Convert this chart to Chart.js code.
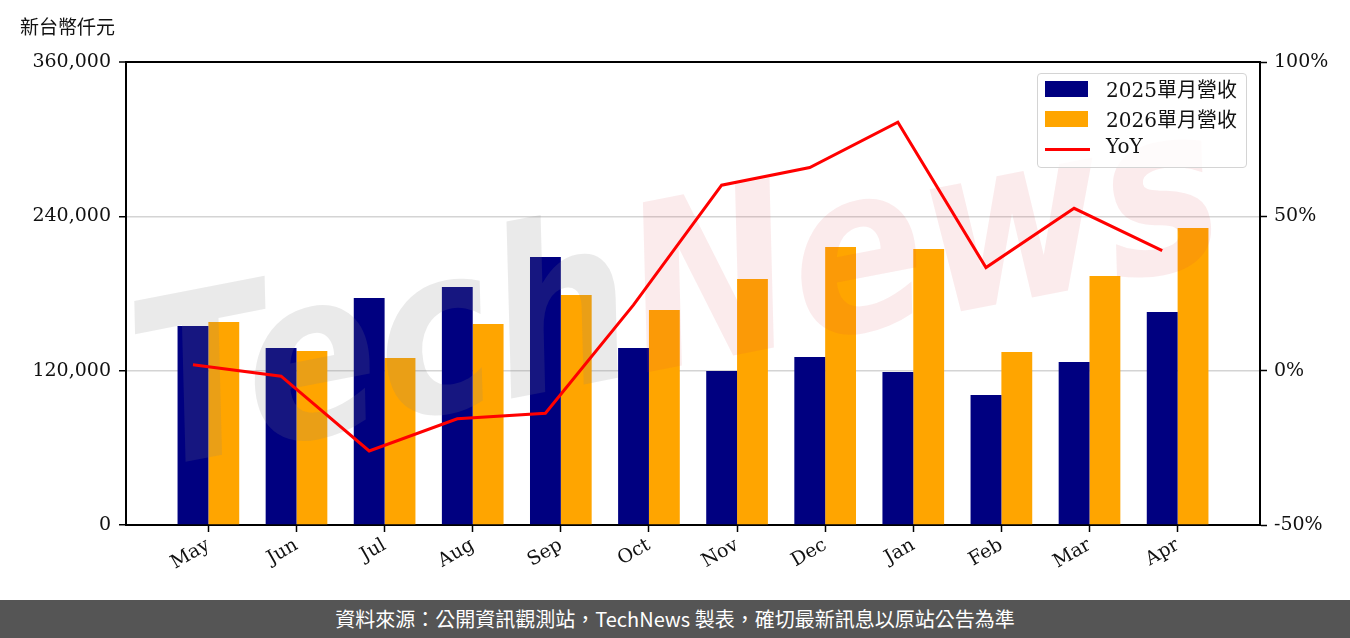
<!DOCTYPE html>
<html>
<head>
<meta charset="utf-8">
<script src="https://cdn.jsdelivr.net/npm/chart.js@4.4.0/dist/chart.umd.min.js"></script>
<style>
  html, body { margin: 0; padding: 0; background: #fff; }
  #wrap { position: relative; width: 1350px; height: 638px; overflow: hidden; background: #fff; }
  #c { position: absolute; left: 0; top: 0; }
  #unit { position: absolute; left: 20px; top: 14px; font: 19px "Noto Sans CJK TC", sans-serif; color: #111; line-height: 24px; }
  #legend { position: absolute; left: 1037px; top: 73px; width: 210px; height: 95px; box-sizing: border-box;
            border: 1.5px solid #d4d4d4; border-radius: 4px; background: rgba(255,255,255,0.8); }
  #legend .row { position: absolute; left: 0; height: 30px; width: 100%; }
  #legend .sw { position: absolute; left: 6.5px; }
  #legend .txt { position: absolute; left: 68px; top: 0; line-height: 30px; font: 20px "DejaVu Serif", "Noto Sans CJK TC", serif; color: #111; white-space: nowrap; }
  #footer { position: absolute; left: 0; top: 600px; width: 1350px; height: 38px; background: #555555; color: #fff;
            font: 20px "Noto Sans CJK TC", sans-serif; text-align: center; line-height: 38px; }
</style>
</head>
<body>
<div id="wrap">
  <canvas id="c" width="1350" height="600"></canvas>
  <div id="unit">新台幣仟元</div>
  <div id="legend"></div>
  <div id="footer">資料來源：公開資訊觀測站，TechNews 製表，確切最新訊息以原站公告為準</div>
</div>
<script>
// ---- data ----
const months = ['May','Jun','Jul','Aug','Sep','Oct','Nov','Dec','Jan','Feb','Mar','Apr'];
const rev2025 = [154700,137600,176500,185000,208400,137600,119700,130600,119000,101100,126700,165600];
const rev2026 = [157800,135300,129800,156300,178800,167200,191300,216100,214600,134500,193600,230900];
const yoy = [1.9,-1.8,-26.0,-15.6,-13.8,21.3,60.1,65.8,80.5,33.4,52.6,38.9];
const leftTicks = [0,120000,240000,360000];
const rightTicks = [-50,0,50,100];
const seriesLabels = ['2025單月營收','2026單月營收','YoY'];

// ---- styling ----
const BAR_W = 0.35;
const tickFont = { family: '"DejaVu Serif", serif', size: 19 };

const watermark = {
  id: 'wm',
  beforeDatasetDraw(chart, args) {
    if (args.index !== 2) return;
    const ctx = chart.ctx;
    ctx.save();
    ctx.translate(680, 305);
    ctx.rotate(-11 * Math.PI / 180);
    ctx.font = 'italic bold 230px "DejaVu Sans"';
    ctx.textBaseline = 'middle';
    const t1 = 'Tech', t2 = 'News';
    const w1 = ctx.measureText(t1).width, w2 = ctx.measureText(t2).width;
    ctx.scale(1100 / (w1 + w2), 1);
    const x0 = -(w1 + w2) / 2;
    ctx.fillStyle = 'rgba(130,130,130,0.17)';
    ctx.fillText(t1, x0, 0);
    ctx.fillStyle = 'rgba(215,60,70,0.10)';
    ctx.fillText(t2, x0 + w1, 0);
    ctx.restore();
  }
};

const chart = new Chart(document.getElementById('c'), {
  data: {
    datasets: [
      { type: 'bar', label: seriesLabels[0], data: rev2025.map((v, i) => ({ x: i, y: v })),
        backgroundColor: '#000080', yAxisID: 'y', order: 1, categoryPercentage: 2 * BAR_W, barPercentage: 1.0 },
      { type: 'bar', label: seriesLabels[1], data: rev2026.map((v, i) => ({ x: i, y: v })),
        backgroundColor: '#FFA500', yAxisID: 'y', order: 1, categoryPercentage: 2 * BAR_W, barPercentage: 1.0 },
      { type: 'line', label: seriesLabels[2], data: yoy.map((v, i) => ({ x: i - BAR_W / 2, y: v })),
        borderColor: '#FF0000', backgroundColor: '#FF0000', borderWidth: 3, pointRadius: 0, tension: 0,
        yAxisID: 'y1', order: 0 }
    ]
  },
  options: {
    responsive: false,
    animation: false,
    layout: { padding: { top: 62, left: 0, right: 0, bottom: 0 } },
    plugins: { legend: { display: false }, tooltip: { enabled: false } },
    scales: {
      x: {
        type: 'linear', position: 'bottom', min: -0.935, max: 11.935, bounds: 'data', offset: false,
        afterBuildTicks: s => { s.ticks = months.map((m, i) => ({ value: i })); },
        afterFit: s => { s.height = 75; },
        ticks: { callback: v => months[Math.round(v)], autoSkip: false, maxRotation: 30, minRotation: 30,
                 font: tickFont, color: '#111', padding: 2 },
        grid: { offset: false, drawOnChartArea: false, tickLength: 7, tickColor: '#000', tickWidth: 1.5 },
        border: { display: true, color: '#000', width: 2 }
      },
      y: {
        type: 'linear', position: 'left', min: 0, max: 360000, bounds: 'data',
        afterBuildTicks: s => { s.ticks = leftTicks.map(v => ({ value: v })); },
        afterFit: s => { s.width = 126; },
        ticks: { callback: v => v.toLocaleString('en-US'), font: tickFont, color: '#111', padding: 8 },
        grid: {
          color: c => c.tick && c.tick.value === 360000 ? '#000' : (c.tick && c.tick.value === 0 ? 'rgba(0,0,0,0)' : '#d4d4d4'),
          lineWidth: c => c.tick && c.tick.value === 360000 ? 2 : 1.5,
          tickLength: 7, tickColor: '#000', tickWidth: 1.5
        },
        border: { display: true, color: '#000', width: 2 }
      },
      y1: {
        type: 'linear', position: 'right', min: -50, max: 100, bounds: 'data',
        afterBuildTicks: s => { s.ticks = rightTicks.map(v => ({ value: v })); },
        afterFit: s => { s.width = 90; },
        ticks: { callback: v => v + '%', font: tickFont, color: '#111', padding: 7 },
        grid: { drawOnChartArea: false, tickLength: 7, tickColor: '#000', tickWidth: 1.5 },
        border: { display: true, color: '#000', width: 2 }
      }
    }
  },
  plugins: [watermark]
});

// ---- HTML legend built from datasets ----
const lg = document.getElementById('legend');
chart.data.datasets.forEach((ds, i) => {
  const row = document.createElement('div');
  row.className = 'row';
  row.style.top = (i * 30) + 'px';
  const sw = document.createElement('span');
  sw.className = 'sw';
  if (ds.type === 'line') {
    sw.style.width = '45px'; sw.style.height = '3.5px'; sw.style.top = '13.5px'; sw.style.background = ds.borderColor;
  } else {
    sw.style.width = '43px'; sw.style.height = '16px'; sw.style.top = '7px'; sw.style.background = ds.backgroundColor;
  }
  const tx = document.createElement('span');
  tx.className = 'txt';
  tx.textContent = ds.label;
  row.appendChild(sw); row.appendChild(tx);
  lg.appendChild(row);
});
</script>
</body>
</html>
